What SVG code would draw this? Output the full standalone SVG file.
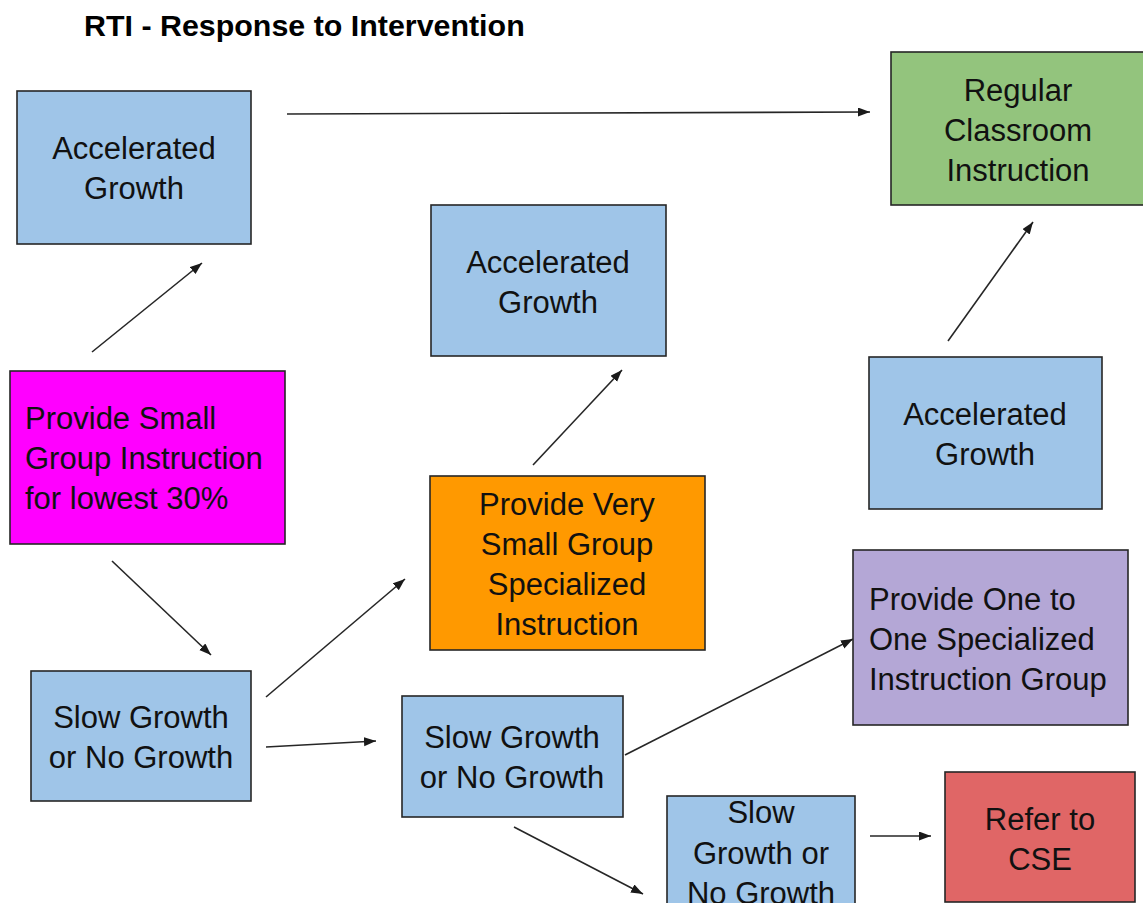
<svg xmlns="http://www.w3.org/2000/svg" width="1143" height="903" viewBox="0 0 1143 903">
  <style>
    .box { stroke: #262626; stroke-width: 1.6; }
    .blue { fill: #9fc5e8; }
    .green { fill: #93c47d; }
    .magenta { fill: #ff00ff; }
    .orange { fill: #ff9900; }
    .purple { fill: #b4a7d6; }
    .red { fill: #e06666; }
    .label { font-family: "Liberation Sans", Arial, sans-serif; font-size: 31px; fill: #111; }
    .mid { text-anchor: middle; }
    .title { font-family: "Liberation Sans", Arial, sans-serif; font-size: 30.4px; font-weight: bold; fill: #000; }
    .link { stroke: #262626; stroke-width: 1.6; fill: none; marker-end: url(#head); }
  </style>
  <defs>
    <marker id="head" markerUnits="userSpaceOnUse" markerWidth="13" markerHeight="10" refX="12" refY="4.5" orient="auto">
      <path d="M0,0 L12,4.5 L0,9 Z" fill="#1a1a1a"/>
    </marker>
  </defs>

  <rect width="1143" height="903" fill="#ffffff"/>

  <text class="title" x="84" y="36">RTI - Response to Intervention</text>

  <g id="connectors">
    <line class="link" x1="287" y1="114" x2="870" y2="112"/>
    <line class="link" x1="92" y1="352" x2="202" y2="263"/>
    <line class="link" x1="112" y1="561" x2="211" y2="655"/>
    <line class="link" x1="266" y1="697" x2="405" y2="579"/>
    <line class="link" x1="266" y1="747" x2="376" y2="741"/>
    <line class="link" x1="533" y1="465" x2="622" y2="370"/>
    <line class="link" x1="948" y1="341" x2="1033" y2="222"/>
    <line class="link" x1="625" y1="755" x2="853" y2="639"/>
    <line class="link" x1="514" y1="827" x2="643" y2="894"/>
    <line class="link" x1="870" y1="836" x2="931" y2="836"/>
  </g>

  <g id="accelerated-1">
    <rect class="box blue" x="17" y="91" width="234" height="153"/>
    <text class="label mid" x="134" y="159">Accelerated</text>
    <text class="label mid" x="134" y="199">Growth</text>
  </g>

  <g id="regular-classroom">
    <rect class="box green" x="891" y="52" width="256" height="153"/>
    <text class="label mid" x="1018" y="101">Regular</text>
    <text class="label mid" x="1018" y="141">Classroom</text>
    <text class="label mid" x="1018" y="181">Instruction</text>
  </g>

  <g id="accelerated-2">
    <rect class="box blue" x="431" y="205" width="235" height="151"/>
    <text class="label mid" x="548" y="273">Accelerated</text>
    <text class="label mid" x="548" y="313">Growth</text>
  </g>

  <g id="small-group">
    <rect class="box magenta" x="10" y="371" width="275" height="173"/>
    <text class="label" x="25" y="429">Provide Small</text>
    <text class="label" x="25" y="469">Group Instruction</text>
    <text class="label" x="25" y="509">for lowest 30%</text>
  </g>

  <g id="accelerated-3">
    <rect class="box blue" x="869" y="357" width="233" height="152"/>
    <text class="label mid" x="985" y="425">Accelerated</text>
    <text class="label mid" x="985" y="465">Growth</text>
  </g>

  <g id="very-small-group">
    <rect class="box orange" x="430" y="476" width="275" height="174"/>
    <text class="label mid" x="567" y="515">Provide Very</text>
    <text class="label mid" x="567" y="555">Small Group</text>
    <text class="label mid" x="567" y="595">Specialized</text>
    <text class="label mid" x="567" y="635">Instruction</text>
  </g>

  <g id="one-to-one">
    <rect class="box purple" x="853" y="550" width="275" height="175"/>
    <text class="label" x="869" y="610">Provide One to</text>
    <text class="label" x="869" y="650">One Specialized</text>
    <text class="label" x="869" y="690">Instruction Group</text>
  </g>

  <g id="slow-growth-1">
    <rect class="box blue" x="31" y="671" width="220" height="130"/>
    <text class="label mid" x="141" y="728">Slow Growth</text>
    <text class="label mid" x="141" y="768">or No Growth</text>
  </g>

  <g id="slow-growth-2">
    <rect class="box blue" x="402" y="696" width="221" height="121"/>
    <text class="label mid" x="512" y="748">Slow Growth</text>
    <text class="label mid" x="512" y="788">or No Growth</text>
  </g>

  <!-- this box runs past the bottom edge of the canvas, so its last line is clipped -->
  <g id="slow-growth-3">
    <rect class="box blue" x="667" y="796" width="188" height="120"/>
    <text class="label mid" x="761" y="823">Slow</text>
    <text class="label mid" x="761" y="864">Growth or</text>
    <text class="label mid" x="761" y="904">No Growth</text>
  </g>

  <g id="refer-cse">
    <rect class="box red" x="945" y="772" width="190" height="130"/>
    <text class="label mid" x="1040" y="830">Refer to</text>
    <text class="label mid" x="1040" y="870">CSE</text>
  </g>
</svg>
